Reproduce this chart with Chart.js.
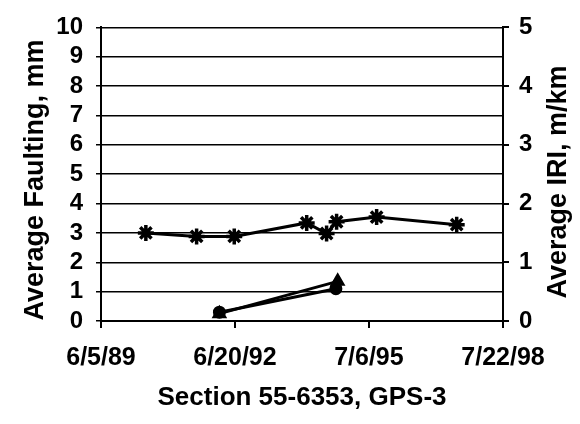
<!DOCTYPE html>
<html lang="en">
<head>
<meta charset="utf-8">
<title>Section 55-6353, GPS-3</title>
<script src="https://cdn.jsdelivr.net/npm/chart.js"></script>
<style>
  html, body { margin: 0; padding: 0; background: #fff; }
  #wrap { width: 580px; height: 424px; }
</style>
</head>
<body>
<div id="wrap"><canvas id="chart" width="580" height="424"></canvas></div>
<script>
// x axis tick labels (m/d/yy)
const xTickLabels = ['6/5/89', '6/20/92', '7/6/95', '7/22/98'];

// Average IRI, m/km (right axis)
const iriDates  = ['6/12/90', '8/7/91', '6/14/92', '2/5/94', '7/20/94', '10/11/94', '9/8/95', '7/3/97'];
const iriValues = [1.50, 1.44, 1.44, 1.67, 1.49, 1.69, 1.77, 1.64];

// Average Faulting, mm (left axis), two series
const faultDatesA  = ['2/12/92', '10/5/94'];
const faultValuesA = [0.30, 1.10];
const faultDatesB  = ['2/12/92', '10/20/94'];
const faultValuesB = [0.25, 1.35];

const leftTitle  = 'Average Faulting, mm';
const rightTitle = 'Average IRI, m/km';
const xTitle     = 'Section 55-6353, GPS-3';

const FONT = "'Liberation Sans', Arial, sans-serif";

// m/d/yy -> day number
function toDay(s) {
    const [m, d, y] = s.split('/').map(Number);
    return Date.UTC(1900 + y, m - 1, d) / 86400000;
}
function toPoints(dates, values) {
    return dates.map((d, i) => ({ x: toDay(d), y: values[i] }));
}
const xTickValues = xTickLabels.map(toDay);

// axis titles drawn rotated the same way on both sides
const axisTitles = {
    id: 'axisTitles',
    afterDraw(chart) {
        const ctx = chart.ctx;
        ctx.save();
        ctx.fillStyle = '#000';
        ctx.font = 'bold 27px ' + FONT;
        ctx.textAlign = 'center';
        ctx.textBaseline = 'middle';
        ctx.translate(36, 180);
        ctx.rotate(-Math.PI / 2);
        ctx.fillText(leftTitle, 0, 0);
        ctx.restore();

        ctx.save();
        ctx.fillStyle = '#000';
        ctx.font = 'bold 27px ' + FONT;
        ctx.textAlign = 'center';
        ctx.textBaseline = 'middle';
        ctx.translate(559, 182);
        ctx.rotate(-Math.PI / 2);
        ctx.fillText(rightTitle, 0, 0);
        ctx.restore();
    }
};

const ctx = document.getElementById('chart').getContext('2d');
new Chart(ctx, {
    type: 'line',
    data: {
        datasets: [
            {
                label: 'IRI',
                data: toPoints(iriDates, iriValues),
                yAxisID: 'y2',
                borderColor: '#000',
                borderWidth: 3,
                pointStyle: 'star',
                pointRadius: 8,
                pointBorderWidth: 3.5,
                pointBackgroundColor: '#000',
                pointBorderColor: '#000',
                tension: 0,
                fill: false
            },
            {
                label: 'Faulting A',
                data: toPoints(faultDatesA, faultValuesA),
                yAxisID: 'y',
                borderColor: '#000',
                borderWidth: 3,
                pointStyle: 'circle',
                pointRadius: 5,
                pointBackgroundColor: '#000',
                pointBorderColor: '#000',
                tension: 0,
                fill: false
            },
            {
                label: 'Faulting B',
                data: toPoints(faultDatesB, faultValuesB),
                yAxisID: 'y',
                borderColor: '#000',
                borderWidth: 3,
                pointStyle: 'triangle',
                pointRadius: 6,
                pointBackgroundColor: '#000',
                pointBorderColor: '#000',
                tension: 0,
                fill: false
            }
        ]
    },
    options: {
        responsive: false,
        animation: false,
        layout: { padding: { top: 21, left: 0, right: 0, bottom: 0 } },
        plugins: {
            legend: { display: false },
            tooltip: { enabled: false }
        },
        scales: {
            x: {
                type: 'linear',
                position: 'bottom',
                min: xTickValues[0],
                max: xTickValues[xTickValues.length - 1],
                afterBuildTicks: s => { s.ticks = xTickValues.map(v => ({ value: v })); },
                afterFit: s => { s.height = 103; },
                ticks: {
                    callback: (v, i) => xTickLabels[i],
                    autoSkip: false,
                    maxRotation: 0,
                    padding: 15,
                    color: '#000',
                    font: { family: FONT, size: 25, weight: 'bold' }
                },
                grid: { drawOnChartArea: false, tickLength: 7, color: '#000', lineWidth: 2 },
                border: { color: '#000', width: 2 },
                title: {
                    display: true,
                    text: xTitle,
                    color: '#000',
                    padding: { top: 0, bottom: 11 },
                    font: { family: FONT, size: 26, weight: 'bold' }
                }
            },
            y: {
                position: 'left',
                min: 0,
                max: 10,
                afterFit: s => { s.width = 101; },
                ticks: {
                    stepSize: 1,
                    autoSkip: false,
                    padding: 13,
                    color: '#000',
                    font: { family: FONT, size: 24, weight: 'bold' }
                },
                grid: { color: '#000', lineWidth: 1.5, tickLength: 5 },
                border: { color: '#000', width: 2 }
            },
            y2: {
                position: 'right',
                min: 0,
                max: 5,
                afterFit: s => { s.width = 77; },
                ticks: {
                    stepSize: 1,
                    autoSkip: false,
                    padding: 10,
                    color: '#000',
                    font: { family: FONT, size: 24, weight: 'bold' }
                },
                grid: { drawOnChartArea: false, color: '#000', lineWidth: 2, tickLength: 6 },
                border: { color: '#000', width: 2 }
            }
        }
    },
    plugins: [axisTitles]
});
</script>
</body>
</html>
